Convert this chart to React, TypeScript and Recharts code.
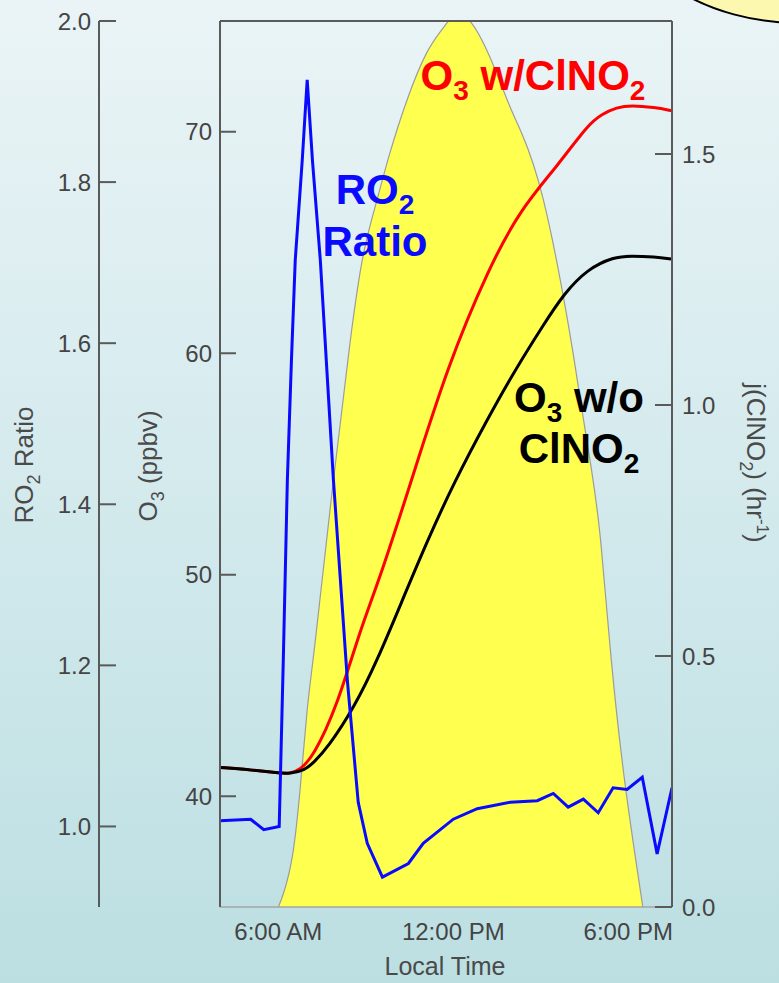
import { Area, ComposedChart, Line, XAxis, YAxis } from 'recharts'

const WIDTH = 779
const HEIGHT = 983

// j(ClNO2) photolysis rate, hr^-1 (yellow area)
const jHours = [6.0, 6.15, 6.5, 6.75, 7.0, 7.2, 7.8, 8.5, 8.9, 9.4, 9.75, 10.4, 11.1, 11.65, 12.0, 12.5, 13.25, 13.95, 14.3, 15.05, 16.0, 16.35, 16.75, 17.05, 17.4, 17.85, 18.5]
const jClNO2 = [0, 0.02, 0.09, 0.23, 0.41, 0.49, 0.81, 1.15, 1.31, 1.41, 1.49, 1.61, 1.71, 1.75, 1.78, 1.78, 1.7, 1.59, 1.55, 1.44, 1.15, 1.01, 0.87, 0.75, 0.49, 0.25, 0]

// O3 (ppbv) with ClNO2 chemistry (red)
const o3WithHours = [4.0, 5.0, 6.0, 6.4, 6.75, 7.2, 8.0, 8.8, 9.5, 10.6, 11.8, 13.2, 14.3, 15.6, 16.6, 17.1, 17.6, 18.1, 18.9, 19.5]
const o3WithClNO2 = [41.3, 41.2, 41.05, 41.02, 41.2, 41.8, 44.0, 47.5, 49.9, 54.4, 59.4, 63.8, 66.5, 68.5, 70.3, 70.8, 71.1, 71.2, 71.1, 70.95]

// O3 (ppbv) without ClNO2 (black)
const o3WithoutHours = [4.0, 5.0, 6.0, 6.4, 6.9, 7.2, 7.7, 8.6, 9.4, 10.3, 11.1, 12.0, 13.2, 14.1, 15.1, 15.8, 16.6, 17.5, 18.1, 18.9, 19.5]
const o3WithoutClNO2 = [41.3, 41.2, 41.05, 41.02, 41.18, 41.5, 42.2, 44.0, 46.15, 49.0, 51.5, 54.1, 57.1, 59.2, 61.3, 62.7, 63.8, 64.35, 64.4, 64.35, 64.25]

// RO2 ratio (blue)
const ro2Hours = [4.0, 5.05, 5.5, 6.03, 6.17, 6.31, 6.45, 6.58, 6.82, 6.99, 7.17, 7.44, 7.89, 8.37, 8.74, 9.05, 9.57, 10.46, 10.97, 12.0, 12.82, 13.95, 14.88, 15.43, 15.94, 16.46, 16.97, 17.48, 17.96, 18.48, 18.99, 19.5]
const ro2Ratio = [1.007, 1.009, 0.996, 1.0, 1.206, 1.43, 1.579, 1.703, 1.827, 1.927, 1.827, 1.703, 1.43, 1.18, 1.03, 0.979, 0.937, 0.954, 0.979, 1.009, 1.022, 1.03, 1.032, 1.041, 1.024, 1.034, 1.017, 1.048, 1.046, 1.061, 0.966, 1.048]

const timeTicks = [6, 12, 18]
const timeLabels: Record<number, string> = { 6: '6:00 AM', 12: '12:00 PM', 18: '6:00 PM' }
const topTicks = [6, 9, 12, 15, 18]
const ro2Ticks = [1.0, 1.2, 1.4, 1.6, 1.8, 2.0]
const o3Ticks = [40, 50, 60, 70]
const jTicks = [0, 0.5, 1.0, 1.5]

const toPoints = (hours: number[], values: number[]) =>
  hours.map((t, i) => ({ t, v: values[i] }))

const FONT = '"Liberation Sans", Arial, Helvetica, sans-serif'
const AXIS = '#5a5a5a'
const TICK = { fill: '#444', fontSize: 24, fontFamily: FONT }

export default function App() {
  return (
    <div
      style={{
        position: 'absolute',
        left: 0,
        top: 0,
        width: WIDTH,
        height: HEIGHT,
        overflow: 'hidden',
        background: 'linear-gradient(to bottom, #eaf4f6 0%, #d6ebee 45%, #bcdfe2 100%)',
        fontFamily: FONT,
      }}
    >
      <ComposedChart width={WIDTH} height={HEIGHT} margin={{ top: 0, right: 0, bottom: 0, left: 0 }}>
        <XAxis
          xAxisId="bottom"
          type="number"
          dataKey="t"
          domain={[4, 19.5]}
          allowDataOverflow
          ticks={timeTicks}
          tickFormatter={(v) => timeLabels[v] ?? ''}
          height={76}
          tick={TICK}
          tickLine={false}
          tickSize={0}
          tickMargin={16}
          axisLine={{ stroke: '#a4a4a4', strokeWidth: 1.5 }}
        />
        <XAxis
          xAxisId="top"
          orientation="top"
          type="number"
          domain={[4, 19.5]}
          allowDataOverflow
          ticks={topTicks}
          height={21}
          tick={false}
          tickSize={-11}
          tickLine={{ stroke: AXIS, strokeWidth: 2 }}
          axisLine={{ stroke: AXIS, strokeWidth: 2 }}
        />
        <YAxis
          yAxisId="o3"
          orientation="left"
          width={121}
          domain={[35, 75]}
          allowDataOverflow
          ticks={o3Ticks}
          tick={TICK}
          tickSize={-16}
          tickMargin={24}
          tickLine={{ stroke: AXIS, strokeWidth: 2 }}
          axisLine={{ stroke: AXIS, strokeWidth: 2 }}
        />
        <YAxis
          yAxisId="ro2"
          orientation="left"
          width={99}
          domain={[0.9, 2.0]}
          allowDataOverflow
          ticks={ro2Ticks}
          tickFormatter={(v) => v.toFixed(1)}
          tick={TICK}
          tickSize={-17}
          tickMargin={25}
          tickLine={{ stroke: AXIS, strokeWidth: 2 }}
          axisLine={{ stroke: AXIS, strokeWidth: 2 }}
        />
        <YAxis
          yAxisId="j"
          orientation="right"
          width={107}
          domain={[0, 1.765]}
          allowDataOverflow
          ticks={jTicks}
          tickFormatter={(v) => v.toFixed(1)}
          tick={TICK}
          tickSize={-17}
          tickMargin={27}
          tickLine={{ stroke: AXIS, strokeWidth: 2 }}
          axisLine={{ stroke: AXIS, strokeWidth: 2 }}
        />
        <Area
          xAxisId="bottom"
          yAxisId="j"
          data={toPoints(jHours, jClNO2)}
          dataKey="v"
          type="basis"
          fill="#ffff50"
          fillOpacity={1}
          stroke="#9c9c9c"
          strokeWidth={1.2}
          isAnimationActive={false}
        />
        <Line
          xAxisId="bottom"
          yAxisId="o3"
          data={toPoints(o3WithHours, o3WithClNO2)}
          dataKey="v"
          type="basis"
          stroke="#ff0000"
          strokeWidth={3}
          dot={false}
          isAnimationActive={false}
        />
        <Line
          xAxisId="bottom"
          yAxisId="o3"
          data={toPoints(o3WithoutHours, o3WithoutClNO2)}
          dataKey="v"
          type="basis"
          stroke="#000000"
          strokeWidth={3}
          dot={false}
          isAnimationActive={false}
        />
        <Line
          xAxisId="bottom"
          yAxisId="ro2"
          data={toPoints(ro2Hours, ro2Ratio)}
          dataKey="v"
          type="linear"
          stroke="#0a0aff"
          strokeWidth={3}
          dot={false}
          isAnimationActive={false}
        />
      </ComposedChart>

      <svg
        width={WIDTH}
        height={HEIGHT}
        style={{ position: 'absolute', left: 0, top: 0, pointerEvents: 'none' }}
        fontFamily={FONT}
      >
        {/* corner of the slide's speech bubble */}
        <ellipse cx={800} cy={-100} rx={180} ry={123} fill="#fdf8b0" stroke="#000" strokeWidth={2} />

        {/* axis titles */}
        <text transform="translate(33,465) rotate(-90)" textAnchor="middle" fontSize={26} fill="#4a4a4a">
          RO<tspan dy={7} fontSize={18}>2</tspan>
          <tspan dy={-7}> Ratio</tspan>
        </text>
        <text transform="translate(157,466) rotate(-90)" textAnchor="middle" fontSize={26} fill="#4a4a4a">
          O<tspan dy={7} fontSize={18}>3</tspan>
          <tspan dy={-7}> (ppbv)</tspan>
        </text>
        <text transform="translate(747,463) rotate(90)" textAnchor="middle" fontSize={26} fill="#4a4a4a">
          j(ClNO<tspan dy={7} fontSize={18}>2</tspan>
          <tspan dy={-7}>) (hr</tspan>
          <tspan dy={-10} fontSize={17}>-1</tspan>
          <tspan dy={10}>)</tspan>
        </text>
        <text x={445} y={975} textAnchor="middle" fontSize={25} fill="#4a4a4a">
          Local Time
        </text>

        {/* series annotations */}
        <g fontWeight="bold" fontSize={42}>
          <text x={375} y={204} textAnchor="middle" fill="#0a0aff">
            RO<tspan dy={10} fontSize={28}>2</tspan>
          </text>
          <text x={375} y={256} textAnchor="middle" fill="#0a0aff">
            Ratio
          </text>
          <text x={533} y={90} textAnchor="middle" fill="#ff0000">
            O<tspan dy={10} fontSize={28}>3</tspan>
            <tspan dy={-10}> w/ClNO</tspan>
            <tspan dy={10} fontSize={28}>2</tspan>
          </text>
          <text x={579} y={412} textAnchor="middle" fill="#000">
            O<tspan dy={10} fontSize={28}>3</tspan>
            <tspan dy={-10}> w/o</tspan>
          </text>
          <text x={579} y={463} textAnchor="middle" fill="#000">
            ClNO<tspan dy={10} fontSize={28}>2</tspan>
          </text>
        </g>
      </svg>
    </div>
  )
}
